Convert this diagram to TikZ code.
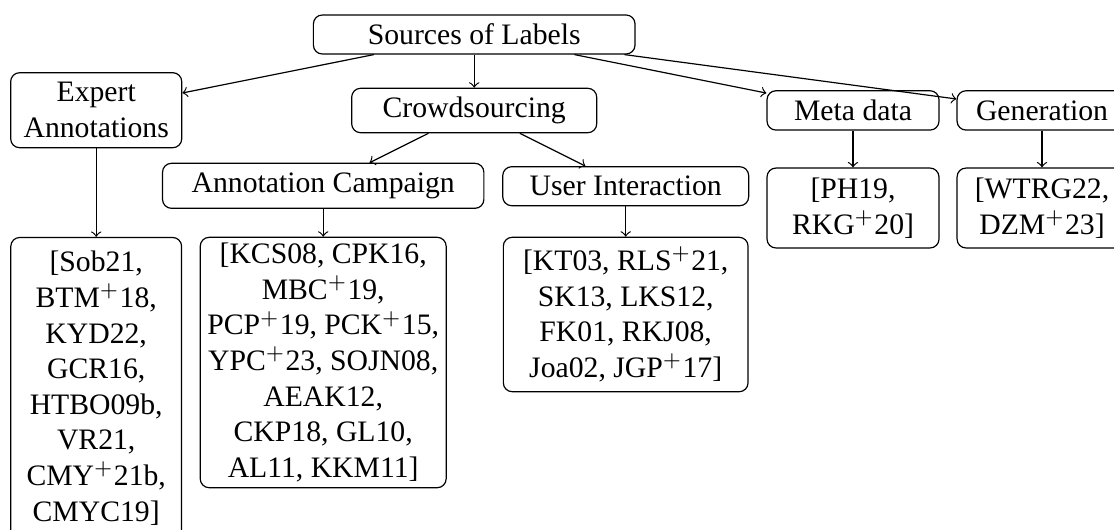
\documentclass[tikz,border=0pt]{standalone}
\usepackage{fontspec}
\setmainfont{Liberation Serif}
\newcommand{\plus}{$^{+}$}
\begin{document}
\begin{tikzpicture}[x=0.3367pt, y=-0.3367pt,
  box/.style={draw, rounded corners=3pt, align=center, inner xsep=2pt, inner ysep=1pt,
    font=\fontsize{10}{12}\selectfont},
  link/.style={->}]
\useasboundingbox (0,0) rectangle (1114,529);
\clip (0,0) rectangle (1114,529);

% top level
\node[box, minimum width=108.3pt, minimum height=13.13pt] (src) at (474.2,34.5) {Sources of Labels};

% categories
\node[box, minimum width=57.6pt, minimum height=25.25pt] (exp) at (96.2,110.2) {Expert\\Annotations};
\node[box, minimum width=82.5pt, minimum height=14.95pt] (crowd) at (474.2,110.5) {Crowdsourcing};
\node[box, minimum width=57.9pt, minimum height=13.23pt] (meta) at (853,110.4) {Meta data};
\node[box, minimum width=57.2pt, minimum height=13.23pt] (gen) at (1042,110.4) {Generation};

% crowdsourcing sub-categories
\node[box, minimum width=108.2pt, minimum height=15.15pt] (camp) at (323.2,185.8) {Annotation Campaign};
\node[box, minimum width=82.8pt, minimum height=13.13pt] (ui) at (625.7,186.2) {User Interaction};

% reference lists
\node[box, minimum width=57.5pt, minimum height=101.5pt] (expref) at (96.2,388.2)
  {[Sob21,\\BTM\plus18,\\KYD22,\\GCR16,\\HTBO09b,\\VR21,\\CMY\plus21b,\\CMYC19]};
\node[box, minimum width=82.8pt, minimum height=84.3pt] (campref) at (323.2,362.5)
  {[KCS08, CPK16,\\MBC\plus19,\\PCP\plus19, PCK\plus15,\\YPC\plus23, SOJN08,\\AEAK12,\\CKP18, GL10,\\AL11, KKM11]};
\node[box, minimum width=82.4pt, minimum height=52pt] (uiref) at (625.7,314.5)
  {[KT03, RLS\plus21,\\SK13, LKS12,\\FK01, RKJ08,\\Joa02, JGP\plus17]};
\node[box, minimum width=57.9pt, minimum height=26.9pt] (metaref) at (853,208)
  {[PH19,\\RKG\plus20]};
\node[box, minimum width=57.2pt, minimum height=26.9pt] (genref) at (1042,208)
  {[WTRG22,\\DZM\plus23]};

% connectors
\draw[link] (src) -- (exp);
\draw[link] (src) -- (crowd);
\draw[link] (src) -- (meta);
\draw[link] (src) -- (gen);
\draw[link] (crowd) -- (camp);
\draw[link] (crowd) -- (ui);
\draw[link] (exp) -- (expref);
\draw[link] (camp) -- (campref);
\draw[link] (ui) -- (uiref);
\draw[link] (meta) -- (metaref);
\draw[link] (gen) -- (genref);
\end{tikzpicture}
\end{document}
